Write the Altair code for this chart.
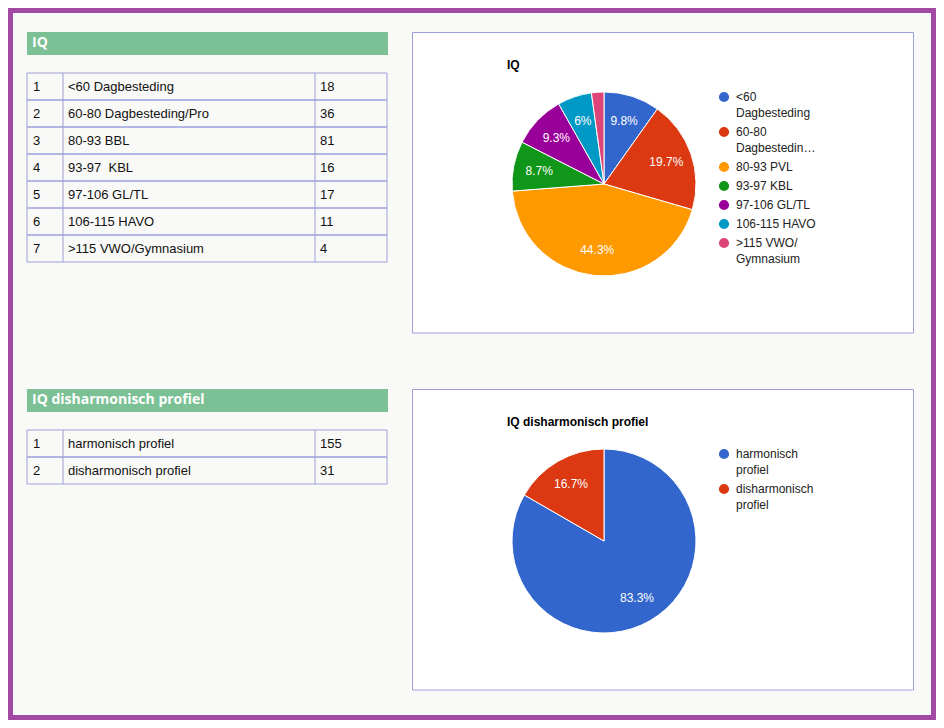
import altair as alt
import pandas as pd

# ---------------- data ----------------
section_titles = ["IQ", "IQ disharmonisch profiel"]

iq_labels = ["<60 Dagbesteding", "60-80 Dagbesteding/Pro", "80-93 BBL", "93-97\u00a0 KBL",
             "97-106 GL/TL", "106-115 HAVO", ">115 VWO/Gymnasium"]
iq_counts = [18, 36, 81, 16, 17, 11, 4]
iq_legend = ["<60\nDagbesteding", "60-80\nDagbestedin\u2026", "80-93 PVL", "93-97 KBL",
             "97-106 GL/TL", "106-115 HAVO", ">115 VWO/\nGymnasium"]

profiel_labels = ["harmonisch profiel", "disharmonisch profiel"]
profiel_counts = [155, 31]
profiel_legend = ["harmonisch\nprofiel", "disharmonisch\nprofiel"]

pie_colors = ["#3366cc", "#dc3912", "#ff9900", "#109618", "#990099", "#0099c6", "#dd4477"]

# ---------------- styles / layout ----------------
PURPLE = "#a04aa3"
GREEN = "#7bc195"
LAV = "#9ca0da"
PAGE_BG = "#f9f9f7"
W, H, OFF = 928, 712, 8
SECTION_TOPS = [32, 389]

xs = alt.Scale(domain=[OFF, OFF + W], range=[0, W], nice=False, zero=False)
ys = alt.Scale(domain=[OFF, OFF + H], range=[0, H], nice=False, zero=False)


def X(f):
    return alt.X(f, type="quantitative", scale=xs, axis=None)


def Y(f):
    return alt.Y(f, type="quantitative", scale=ys, axis=None)


def section(top, title, labels, counts, legend):
    layers = []
    df = pd.DataFrame({"label": labels, "count": counts, "legend": legend})
    tt = top + 41  # table top

    head = alt.Chart(pd.DataFrame({"title": [title]})).transform_calculate(
        x1="27", x2="388", y1=f"{top}", y2=f"{top} + 23", tx="32", ty=f"{top} + 15"
    )
    layers.append(head.mark_rect(color=GREEN).encode(
        x=X("x1"), x2="x2", y=Y("y1"), y2="y2"))
    layers.append(head.mark_text(align="left", baseline="alphabetic", font="Open Sans",
                                 fontWeight="bold", fontSize=14, color="white").encode(
        x=X("tx"), y=Y("ty"), text="title:N"))

    base = alt.Chart(df).transform_window(rn="row_number()").transform_calculate(
        idx="datum.rn - 1",
        y1=f"{tt} + 27 * (datum.rn - 1)",
        y2=f"{tt} + 27 * datum.rn",
        ym=f"{tt} + 27 * (datum.rn - 1) + 13.5",
        xa="27", xb="63", xc="315", xd="387",
        ta="33", tb="68", tc="320",
    )
    layers.append(base.mark_rect(fill="white", fillOpacity=0.0, stroke=LAV, strokeWidth=1).encode(
        x=X("xa"), x2="xd", y=Y("y1"), y2="y2"))
    layers.append(base.mark_rule(color=LAV, strokeWidth=1).encode(
        x=X("xb"), y=Y("y1"), y2="y2"))
    layers.append(base.mark_rule(color=LAV, strokeWidth=1).encode(
        x=X("xc"), y=Y("y1"), y2="y2"))
    tstyle = dict(align="left", baseline="middle", font="Liberation Sans", fontSize=13, color="#111111")
    layers.append(base.mark_text(**tstyle).encode(x=X("ta"), y=Y("ym"), text="rn:Q"))
    layers.append(base.mark_text(**tstyle).encode(x=X("tb"), y=Y("ym"), text="label:N"))
    layers.append(base.mark_text(**tstyle).encode(x=X("tc"), y=Y("ym"), text="count:Q"))

    # chart box
    box = alt.Chart(pd.DataFrame({"title": [title]})).transform_calculate(
        x1="412.5", x2="913.5", y1=f"{top} + 0.5", y2=f"{top} + 301",
        tx="507", ty=f"{top} + 37")
    layers.append(box.mark_rect(fill="white", stroke=LAV, strokeWidth=1).encode(
        x=X("x1"), x2="x2", y=Y("y1"), y2="y2"))
    layers.append(box.mark_text(align="left", baseline="alphabetic", font="Liberation Sans",
                                fontWeight="bold", fontSize=12, color="#000000").encode(
        x=X("tx"), y=Y("ty"), text="title:N"))

    color = alt.Color("label:N", scale=alt.Scale(domain=labels, range=pie_colors[:len(labels)]),
                      legend=None)
    pie = base.transform_joinaggregate(total="sum(count)").transform_calculate(
        cx="604", cy=f"{top} + 152",
        pct="datum.count / datum.total",
        lab="datum.pct >= 0.05 ? format(datum.pct, '.1~%') : ''",
    )
    layers.append(pie.mark_arc(outerRadius=92, stroke="white", strokeWidth=1).encode(
        theta=alt.Theta("count:Q", stack=True),
        color=color,
        order=alt.Order("idx:Q"),
        x=X("cx"), y=Y("cy"),
    ))
    layers.append(pie.mark_text(radius=66, font="Liberation Sans", fontSize=12, color="white",
                                align="center", baseline="middle").encode(
        theta=alt.Theta("count:Q", stack=True),
        detail="label:N",
        order=alt.Order("idx:Q"),
        x=X("cx"), y=Y("cy"),
        text="lab:N",
    ))

    # legend
    leg = base.transform_calculate(
        extra="length(split(datum.legend, '\\n')) - 1"
    ).transform_window(
        prev="sum(extra)", frame=[None, -1]
    ).transform_calculate(
        ly=f"{top} + 65 + 19 * datum.idx + 16 * (datum.prev || 0)",
        lty="datum.ly + 4",
        lx="724", ltx="736",
    )
    layers.append(leg.mark_point(shape="circle", filled=True, size=104, opacity=1).encode(
        x=X("lx"), y=Y("ly"), color=color))
    layers.append(leg.mark_text(align="left", baseline="alphabetic", font="Liberation Sans",
                                fontSize=12, lineBreak="\n", lineHeight=16, color="#222222").encode(
        x=X("ltx"), y=Y("lty"), text="legend:N"))
    return layers


layers = []
layers += section(SECTION_TOPS[0], section_titles[0], iq_labels, iq_counts, iq_legend)
layers += section(SECTION_TOPS[1], section_titles[1], profiel_labels, profiel_counts, profiel_legend)

frame = alt.Chart(pd.DataFrame({"a": [0]})).mark_rect(
    fillOpacity=0, stroke=PURPLE, strokeWidth=10).encode(
    x=alt.value(0), x2=alt.value(W), y=alt.value(0), y2=alt.value(H))
layers.append(frame)

chart = alt.layer(*layers).resolve_scale(
    theta="independent", color="independent"
).properties(
    width=W, height=H, padding=0, background=PAGE_BG,
    autosize=alt.AutoSizeParams(type="none"),
).configure_view(stroke=None)

chart.save("out.html", embed_options={"renderer": "svg", "actions": False})
